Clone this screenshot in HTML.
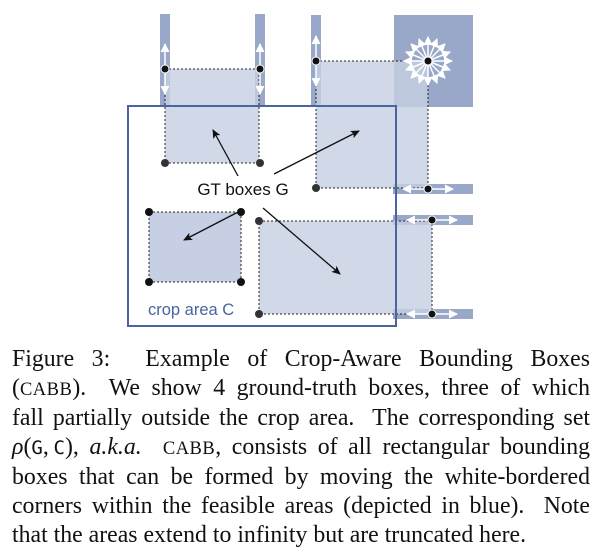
<!DOCTYPE html>
<html><head><meta charset="utf-8"><style>
body{margin:0;width:600px;height:560px;background:#fff;overflow:hidden;position:relative}
.cap{position:absolute;left:12px;width:578px;top:345px;font-family:"Liberation Serif",serif;font-size:23.8px;line-height:28.6px;color:#111}
.cap div{text-align:justify;text-align-last:justify;white-space:nowrap}
.cap div.l{text-align-last:left}
.sc{font-size:18.5px;letter-spacing:0.5px}
.m{font-family:"DejaVu Sans Mono","Liberation Mono",monospace;font-size:19px}
</style></head><body>
<svg width="600" height="340" style="position:absolute;left:0;top:0" font-family="Liberation Sans, DejaVu Sans, sans-serif">
<defs>
<marker id="a" markerWidth="10" markerHeight="10" refX="8" refY="5" orient="auto" markerUnits="userSpaceOnUse"><path d="M0,1 L9,5 L0,9 L2,5z" fill="#111"/></marker>
<marker id="w" markerWidth="9" markerHeight="9" refX="8" refY="4.5" orient="auto" markerUnits="userSpaceOnUse"><path d="M0,0 L9,4.5 L0,9z" fill="#fff"/></marker>
</defs>
<g fill="#99a8c9">
<rect x="160" y="14" width="10" height="92"/>
<rect x="255" y="14" width="10" height="92"/>
<rect x="311" y="15" width="10" height="92"/>
<rect x="394" y="15" width="79" height="92"/>
<rect x="393" y="184" width="80" height="10"/>
<rect x="393" y="215" width="80" height="10"/>
<rect x="393" y="309" width="80" height="10"/>
</g>
<g fill="#c6cfe2" fill-opacity="0.8" stroke="#222" stroke-width="1" stroke-dasharray="2,2">
<rect x="165" y="69" width="94" height="94"/>
<rect x="316" y="61" width="112" height="127"/>
<rect x="149" y="212" width="92" height="70" fill="#b8c3dc"/>
<rect x="259" y="221" width="173" height="93"/>
</g>
<rect x="128" y="106" width="268" height="220" fill="none" stroke="#4a64a0" stroke-width="2"/>
<g stroke="#fff" stroke-width="1.5" marker-end="url(#w)">
<line x1="165" y1="69" x2="165" y2="44"/><line x1="165" y1="69" x2="165" y2="94"/>
<line x1="260" y1="69" x2="260" y2="44"/><line x1="260" y1="69" x2="260" y2="94"/>
<line x1="316" y1="61" x2="316" y2="36"/><line x1="316" y1="61" x2="316" y2="86"/>
<line x1="428" y1="189" x2="403" y2="189"/><line x1="428" y1="189" x2="453" y2="189"/>
<line x1="432" y1="220" x2="407" y2="220"/><line x1="432" y1="220" x2="457" y2="220"/>
<line x1="432" y1="314" x2="407" y2="314"/><line x1="432" y1="314" x2="457" y2="314"/>
<line x1="428" y1="61" x2="428" y2="37"/><line x1="428" y1="61" x2="428" y2="85"/>
<line x1="428" y1="61" x2="404" y2="61"/><line x1="428" y1="61" x2="452" y2="61"/>
<line x1="428" y1="61" x2="445" y2="44"/><line x1="428" y1="61" x2="411" y2="44"/>
<line x1="428" y1="61" x2="445" y2="78"/><line x1="428" y1="61" x2="411" y2="78"/>
<line x1="428" y1="61" x2="437" y2="39"/><line x1="428" y1="61" x2="419" y2="39"/>
<line x1="428" y1="61" x2="437" y2="83"/><line x1="428" y1="61" x2="419" y2="83"/>
<line x1="428" y1="61" x2="450" y2="52"/><line x1="428" y1="61" x2="406" y2="52"/>
<line x1="428" y1="61" x2="450" y2="70"/><line x1="428" y1="61" x2="406" y2="70"/>
</g>
<g fill="#111">
<circle cx="165" cy="69" r="4" stroke="#fff"/><circle cx="260" cy="69" r="4" stroke="#fff"/>
<circle cx="316" cy="61" r="4" stroke="#fff"/><circle cx="428" cy="61" r="4" stroke="#fff"/>
<circle cx="428" cy="189" r="4" stroke="#fff"/><circle cx="432" cy="220" r="4" stroke="#fff"/><circle cx="432" cy="314" r="4" stroke="#fff"/>
<circle cx="165" cy="163" r="4" fill="#333"/><circle cx="260" cy="163" r="4" fill="#333"/>
<circle cx="316" cy="188" r="4" fill="#333"/>
<circle cx="149" cy="212" r="4"/><circle cx="241" cy="212" r="4"/><circle cx="149" cy="282" r="4"/><circle cx="241" cy="282" r="4"/>
<circle cx="259" cy="221" r="4" fill="#333"/><circle cx="259" cy="314" r="4" fill="#333"/>
</g>
<g stroke="#111" stroke-width="1.3" marker-end="url(#a)">
<line x1="238" y1="176" x2="213" y2="130"/>
<line x1="274" y1="174" x2="359" y2="131"/>
<line x1="242" y1="210" x2="184" y2="240"/>
<line x1="263" y1="208" x2="340" y2="274"/>
</g>
<text x="243" y="195" text-anchor="middle" font-size="17" fill="#111">GT boxes G</text>
<text x="148" y="315" font-size="16.5" fill="#4a64a0">crop area C</text>
</svg>
<div class="cap">
<div>Figure 3:&nbsp; Example of Crop-Aware Bounding Boxes</div>
<div>(<span class="sc">CABB</span>).&nbsp; We show 4 ground-truth boxes, three of which</div>
<div>fall partially outside the crop area.&nbsp; The corresponding set</div>
<div><i>ρ</i>(<span class="m">G</span>,&#8201;<span class="m">C</span>), <i>a.k.a.</i>&nbsp; <span class="sc">CABB</span>, consists of all rectangular bounding</div>
<div>boxes that can be formed by moving the white-bordered</div>
<div>corners within the feasible areas (depicted in blue).&nbsp; Note</div>
<div class="l">that the areas extend to infinity but are truncated here.</div>
</div>
</body></html>
